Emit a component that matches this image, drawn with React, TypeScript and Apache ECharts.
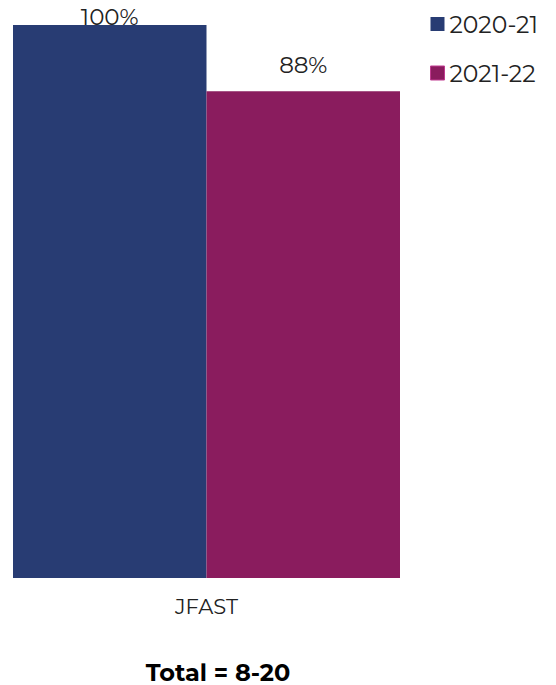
import React, { useEffect, useRef } from "react";
import * as echarts from "echarts";

const categories = ["JFAST"];
const seriesNames = ["2020-21", "2021-22"];
const values2021 = [100];
const values2122 = [88];
const colors = ["#283C73", "#8A1C5E"];
const title = "Total = 8-20";

const FONT = "Montserrat, 'Open Sans', 'Noto Sans', sans-serif";

export default function App() {
  const ref = useRef<HTMLDivElement>(null);
  useEffect(() => {
    document.body.style.margin = "0";
    const chart = echarts.init(ref.current!, null, { renderer: "svg" });
    const label = {
      show: true,
      position: "top" as const,
      distance: 15,
      formatter: "{c}%",
      color: "#222",
      fontFamily: FONT,
      fontSize: 23,
    };
    chart.setOption({
      animation: false,
      title: {
        text: title,
        left: 213,
        textAlign: "center",
        top: 655,
        textStyle: { fontFamily: FONT, fontSize: 24, fontWeight: "bold", color: "#000" },
      },
      legend: {
        orient: "vertical",
        left: 430,
        top: 10,
        padding: 0,
        icon: "rect",
        itemWidth: 14,
        itemHeight: 14,
        itemGap: 21,
        textStyle: { fontFamily: FONT, fontSize: 23.5, color: "#222", lineHeight: 28 },
        data: [
          { name: seriesNames[0] },
          { name: seriesNames[1], itemStyle: { borderColor: "#C03A90", borderWidth: 1 } },
        ],
      },
      grid: { left: 13, right: 156, top: 25, bottom: 107 },
      xAxis: {
        type: "category",
        data: categories,
        axisLine: { show: false },
        axisTick: { show: false },
        axisLabel: { margin: 18, fontFamily: FONT, fontSize: 21, color: "#222" },
      },
      yAxis: { type: "value", min: 0, max: 100, show: false, splitLine: { show: false } },
      series: [
        {
          name: seriesNames[0],
          type: "bar",
          data: values2021,
          barGap: "0%",
          barCategoryGap: "0%",
          itemStyle: { color: colors[0] },
          label: { ...label, distance: -3 },
        },
        {
          name: seriesNames[1],
          type: "bar",
          data: values2122,
          barGap: "0%",
          barCategoryGap: "0%",
          itemStyle: { color: colors[1] },
          label,
        },
      ],
    });
    return () => chart.dispose();
  }, []);
  return <div ref={ref} style={{ position: "absolute", left: 0, top: 0, width: 556, height: 685 }} />;
}
